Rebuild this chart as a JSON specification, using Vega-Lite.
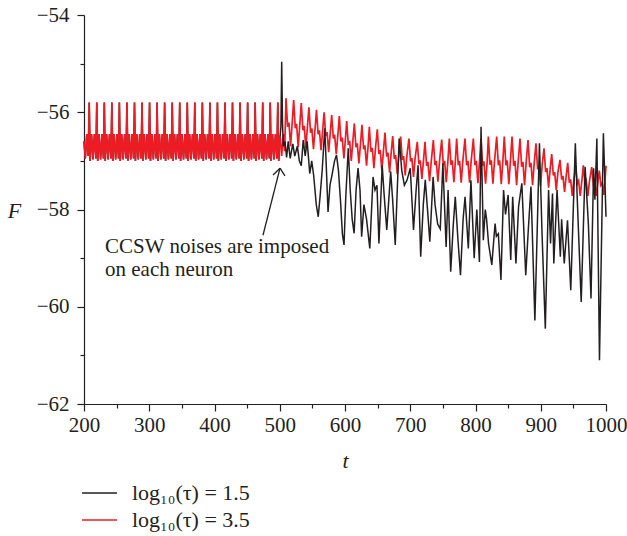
{
"$schema":"https://vega.github.io/schema/vega-lite/v6.json",
"width":522,"height":389,
"autosize":{"type":"none"},
"padding":{"left":84,"top":15,"right":21,"bottom":132},
"config":{"view":{"stroke":null},"font":"Liberation Serif",
 "axis":{"grid":false,"domainColor":"#231f20","tickColor":"#231f20","labelColor":"#231f20","titleColor":"#231f20","labelFont":"Liberation Serif","titleFont":"Liberation Serif","labelFontSize":21,"titleFontSize":22,"titleFontWeight":"normal","titleFontStyle":"italic","domainWidth":1.2,"tickWidth":1.2,"labelOverlap":false,"labelFlush":false}},
"datasets":{
"a":[{"t":200,"F":-56.6},{"t":202,"F":-56.95},{"t":204.3,"F":-56.45},{"t":206.5,"F":-56.9},
{"t":208,"F":-55.8},{"t":209.4,"F":-57},{"t":211.5,"F":-56.45},{"t":213.8,"F":-56.97},{"t":216,"F":-56.45},{"t":218.2,"F":-56.95},
{"t":219.6,"F":-55.8},{"t":221,"F":-57},{"t":223.1,"F":-56.45},{"t":225.4,"F":-56.97},{"t":227.6,"F":-56.45},{"t":229.8,"F":-56.95},
{"t":231.1,"F":-55.8},{"t":232.5,"F":-57},{"t":234.6,"F":-56.45},{"t":236.9,"F":-56.97},{"t":239.1,"F":-56.45},{"t":241.3,"F":-56.95},
{"t":242.7,"F":-55.8},{"t":244.1,"F":-57},{"t":246.2,"F":-56.45},{"t":248.5,"F":-56.97},{"t":250.7,"F":-56.45},{"t":252.9,"F":-56.95},
{"t":254.2,"F":-55.8},{"t":255.6,"F":-57},{"t":257.7,"F":-56.45},{"t":260,"F":-56.97},{"t":262.2,"F":-56.45},{"t":264.4,"F":-56.95},
{"t":265.8,"F":-55.8},{"t":267.2,"F":-57},{"t":269.3,"F":-56.45},{"t":271.6,"F":-56.97},{"t":273.8,"F":-56.45},{"t":276,"F":-56.95},
{"t":277.4,"F":-55.8},{"t":278.8,"F":-57},{"t":280.9,"F":-56.45},{"t":283.2,"F":-56.97},{"t":285.4,"F":-56.45},{"t":287.6,"F":-56.95},
{"t":288.9,"F":-55.8},{"t":290.3,"F":-57},{"t":292.4,"F":-56.45},{"t":294.7,"F":-56.97},{"t":296.9,"F":-56.45},{"t":299.1,"F":-56.95},
{"t":300.5,"F":-55.8},{"t":301.9,"F":-57},{"t":304,"F":-56.45},{"t":306.3,"F":-56.97},{"t":308.5,"F":-56.45},{"t":310.7,"F":-56.95},
{"t":312,"F":-55.8},{"t":313.4,"F":-57},{"t":315.5,"F":-56.45},{"t":317.8,"F":-56.97},{"t":320,"F":-56.45},{"t":322.2,"F":-56.95},
{"t":323.6,"F":-55.8},{"t":325,"F":-57},{"t":327.1,"F":-56.45},{"t":329.4,"F":-56.97},{"t":331.6,"F":-56.45},{"t":333.8,"F":-56.95},
{"t":335.2,"F":-55.8},{"t":336.6,"F":-57},{"t":338.7,"F":-56.45},{"t":341,"F":-56.97},{"t":343.2,"F":-56.45},{"t":345.4,"F":-56.95},
{"t":346.7,"F":-55.8},{"t":348.1,"F":-57},{"t":350.2,"F":-56.45},{"t":352.5,"F":-56.97},{"t":354.7,"F":-56.45},{"t":356.9,"F":-56.95},
{"t":358.3,"F":-55.8},{"t":359.7,"F":-57},{"t":361.8,"F":-56.45},{"t":364.1,"F":-56.97},{"t":366.3,"F":-56.45},{"t":368.5,"F":-56.95},
{"t":369.8,"F":-55.8},{"t":371.2,"F":-57},{"t":373.3,"F":-56.45},{"t":375.6,"F":-56.97},{"t":377.8,"F":-56.45},{"t":380,"F":-56.95},
{"t":381.4,"F":-55.8},{"t":382.8,"F":-57},{"t":384.9,"F":-56.45},{"t":387.2,"F":-56.97},{"t":389.4,"F":-56.45},{"t":391.6,"F":-56.95},
{"t":393,"F":-55.8},{"t":394.4,"F":-57},{"t":396.5,"F":-56.45},{"t":398.8,"F":-56.97},{"t":401,"F":-56.45},{"t":403.2,"F":-56.95},
{"t":404.5,"F":-55.8},{"t":405.9,"F":-57},{"t":408,"F":-56.45},{"t":410.3,"F":-56.97},{"t":412.5,"F":-56.45},{"t":414.7,"F":-56.95},
{"t":416.1,"F":-55.8},{"t":417.5,"F":-57},{"t":419.6,"F":-56.45},{"t":421.9,"F":-56.97},{"t":424.1,"F":-56.45},{"t":426.3,"F":-56.95},
{"t":427.6,"F":-55.8},{"t":429,"F":-57},{"t":431.1,"F":-56.45},{"t":433.4,"F":-56.97},{"t":435.6,"F":-56.45},{"t":437.8,"F":-56.95},
{"t":439.2,"F":-55.8},{"t":440.6,"F":-57},{"t":442.7,"F":-56.45},{"t":445,"F":-56.97},{"t":447.2,"F":-56.45},{"t":449.4,"F":-56.95},
{"t":450.8,"F":-55.8},{"t":452.2,"F":-57},{"t":454.3,"F":-56.45},{"t":456.6,"F":-56.97},{"t":458.8,"F":-56.45},{"t":461,"F":-56.95},
{"t":462.3,"F":-55.8},{"t":463.7,"F":-57},{"t":465.8,"F":-56.45},{"t":468.1,"F":-56.97},{"t":470.3,"F":-56.45},{"t":472.5,"F":-56.95},
{"t":473.9,"F":-55.8},{"t":475.3,"F":-57},{"t":477.4,"F":-56.45},{"t":479.7,"F":-56.97},{"t":481.9,"F":-56.45},{"t":484.1,"F":-56.95},
{"t":485.4,"F":-55.8},{"t":486.8,"F":-57},{"t":488.9,"F":-56.45},{"t":491.2,"F":-56.97},{"t":493.4,"F":-56.45},{"t":495.6,"F":-56.95},
{"t":497,"F":-55.8},{"t":498.4,"F":-57},{"t":500.5,"F":-56.5}],
"r2":[{"t":500.5,"F":-56.5},{"t":503,"F":-56.9},{"t":505.5,"F":-56.45},{"t":507.5,"F":-56.8},
{"t":509.6,"F":-55.71},{"t":512.1,"F":-56.3},{"t":514.1,"F":-56.21},{"t":516.6,"F":-56.7},{"t":519.1,"F":-56.21},
{"t":521.3,"F":-55.75},{"t":523.8,"F":-56.33},{"t":525.8,"F":-56.24},{"t":528.3,"F":-56.72},{"t":530.8,"F":-56.24},
{"t":533,"F":-55.81},{"t":535.5,"F":-56.37},{"t":537.5,"F":-56.28},{"t":540,"F":-56.74},{"t":542.5,"F":-56.28},
{"t":544.7,"F":-55.9},{"t":547.2,"F":-56.42},{"t":549.2,"F":-56.33},{"t":551.7,"F":-56.76},{"t":554.2,"F":-56.33},
{"t":556.3,"F":-55.95},{"t":558.8,"F":-56.45},{"t":560.8,"F":-56.37},{"t":563.3,"F":-56.78},{"t":565.8,"F":-56.37},
{"t":568,"F":-56},{"t":570.5,"F":-56.49},{"t":572.5,"F":-56.41},{"t":575,"F":-56.82},{"t":577.5,"F":-56.41},
{"t":579.6,"F":-56.06},{"t":582.1,"F":-56.54},{"t":584.1,"F":-56.46},{"t":586.6,"F":-56.86},{"t":589.1,"F":-56.46},
{"t":591.3,"F":-56.08},{"t":593.8,"F":-56.6},{"t":595.8,"F":-56.52},{"t":598.3,"F":-56.95},{"t":600.8,"F":-56.52},
{"t":602.6,"F":-56.18},{"t":605.1,"F":-56.67},{"t":607.1,"F":-56.59},{"t":609.6,"F":-57},{"t":612.1,"F":-56.59},
{"t":614.3,"F":-56.23},{"t":616.8,"F":-56.72},{"t":618.8,"F":-56.64},{"t":621.3,"F":-57.05},{"t":623.8,"F":-56.64},
{"t":626,"F":-56.26},{"t":628.5,"F":-56.76},{"t":630.5,"F":-56.68},{"t":633,"F":-57.1},{"t":635.5,"F":-56.68},
{"t":637.3,"F":-56.3},{"t":639.8,"F":-56.81},{"t":641.8,"F":-56.73},{"t":644.3,"F":-57.15},{"t":646.8,"F":-56.73},
{"t":649.5,"F":-56.35},{"t":652,"F":-56.86},{"t":654,"F":-56.78},{"t":656.5,"F":-57.2},{"t":659,"F":-56.78},
{"t":661.3,"F":-56.42},{"t":663.8,"F":-56.91},{"t":665.8,"F":-56.83},{"t":668.3,"F":-57.24},{"t":670.8,"F":-56.83},
{"t":673.1,"F":-56.49},{"t":675.6,"F":-56.96},{"t":677.6,"F":-56.88},{"t":680.1,"F":-57.27},{"t":682.6,"F":-56.88},
{"t":685.3,"F":-56.5},{"t":687.8,"F":-56.98},{"t":689.8,"F":-56.9},{"t":692.3,"F":-57.3},{"t":694.8,"F":-56.9},
{"t":698,"F":-56.54},{"t":700.5,"F":-57.01},{"t":702.5,"F":-56.94},{"t":705,"F":-57.33},{"t":707.5,"F":-56.94},
{"t":710.8,"F":-56.61},{"t":713.3,"F":-57.07},{"t":715.3,"F":-56.99},{"t":717.8,"F":-57.37},{"t":720.3,"F":-56.99},
{"t":722.6,"F":-56.61},{"t":725.1,"F":-57.1},{"t":727.1,"F":-57.02},{"t":729.6,"F":-57.42},{"t":732.1,"F":-57.02},
{"t":735.4,"F":-56.57},{"t":737.9,"F":-57.09},{"t":739.9,"F":-57},{"t":742.4,"F":-57.43},{"t":744.9,"F":-57},
{"t":748.2,"F":-56.56},{"t":750.7,"F":-57.09},{"t":752.7,"F":-57},{"t":755.2,"F":-57.44},{"t":757.7,"F":-57},
{"t":759.9,"F":-56.54},{"t":762.4,"F":-57.08},{"t":764.4,"F":-56.99},{"t":766.9,"F":-57.44},{"t":769.2,"F":-56.99},
{"t":771.1,"F":-56.54},{"t":773.6,"F":-57.09},{"t":775.6,"F":-57},{"t":778.1,"F":-57.45},{"t":780.6,"F":-57},
{"t":783.9,"F":-56.54},{"t":786.4,"F":-57.09},{"t":788.4,"F":-57},{"t":790.9,"F":-57.45},{"t":793.4,"F":-57},
{"t":796.7,"F":-56.54},{"t":799.2,"F":-57.09},{"t":801.2,"F":-57},{"t":803.7,"F":-57.46},{"t":806.2,"F":-57},
{"t":808.4,"F":-56.54},{"t":810.9,"F":-57.1},{"t":812.9,"F":-57.01},{"t":815.4,"F":-57.47},{"t":817.9,"F":-57.01},
{"t":819.7,"F":-56.5},{"t":822.2,"F":-57.08},{"t":824.2,"F":-56.99},{"t":826.7,"F":-57.47},{"t":829.2,"F":-56.99},
{"t":832.5,"F":-56.5},{"t":835,"F":-57.09},{"t":837,"F":-56.99},{"t":839.5,"F":-57.48},{"t":842,"F":-56.99},
{"t":844.1,"F":-56.5},{"t":846.6,"F":-57.09},{"t":848.6,"F":-56.99},{"t":851.1,"F":-57.48},{"t":853.6,"F":-56.99},
{"t":856,"F":-56.5},{"t":858.5,"F":-57.1},{"t":860.5,"F":-57},{"t":863,"F":-57.5},{"t":865.5,"F":-57},
{"t":868.2,"F":-56.54},{"t":870.7,"F":-57.12},{"t":872.7,"F":-57.02},{"t":875.2,"F":-57.5},{"t":877.7,"F":-57.02},
{"t":880.5,"F":-56.57},{"t":883,"F":-57.13},{"t":885,"F":-57.04},{"t":887.5,"F":-57.5},{"t":890,"F":-57.04},
{"t":892.7,"F":-56.64},{"t":895.2,"F":-57.17},{"t":897.2,"F":-57.08},{"t":899.7,"F":-57.52},{"t":902.2,"F":-57.08},
{"t":905,"F":-56.74},{"t":907.5,"F":-57.23},{"t":909.5,"F":-57.15},{"t":912,"F":-57.55},{"t":914.5,"F":-57.15},
{"t":916.8,"F":-56.86},{"t":919.3,"F":-57.3},{"t":921.3,"F":-57.23},{"t":923.8,"F":-57.6},{"t":926.3,"F":-57.23},
{"t":929.5,"F":-56.98},{"t":932,"F":-57.38},{"t":934,"F":-57.31},{"t":936.5,"F":-57.64},{"t":939,"F":-57.31},
{"t":941.3,"F":-57.04},{"t":943.8,"F":-57.45},{"t":945.8,"F":-57.38},{"t":948.3,"F":-57.72},{"t":950.8,"F":-57.38},
{"t":953.5,"F":-57.09},{"t":956,"F":-57.47},{"t":958,"F":-57.41},{"t":960.5,"F":-57.72},{"t":963,"F":-57.41},
{"t":965.2,"F":-57.09},{"t":967.7,"F":-57.47},{"t":969.7,"F":-57.41},{"t":972.2,"F":-57.72},{"t":974.7,"F":-57.41},
{"t":978.1,"F":-57.13},{"t":980.6,"F":-57.48},{"t":982.6,"F":-57.43},{"t":985.1,"F":-57.72},{"t":987.6,"F":-57.43},
{"t":989.7,"F":-57.2},{"t":992.2,"F":-57.5},{"t":994.2,"F":-57.45},{"t":996.7,"F":-57.7},{"t":999,"F":-57.3},{"t":1000,"F":-57.1}],
"b2":[{"t":500.5,"F":-56.5},{"t":501.8,"F":-56.3},{"t":503,"F":-54.96},{"t":504.2,"F":-56.2},{"t":505.5,"F":-56.7},{"t":508,"F":-56.6},{"t":510.5,"F":-56.93},{"t":513,"F":-56.6},{"t":516,"F":-56.95},{"t":520,"F":-56.65},{"t":523,"F":-56.9},{"t":527,"F":-56.7},{"t":530,"F":-57},{"t":533,"F":-57.1},{"t":536,"F":-56.57},{"t":539,"F":-56.9},{"t":542,"F":-56.6},{"t":546,"F":-57.26},{"t":549,"F":-57},{"t":552,"F":-57.3},{"t":556,"F":-57.9},{"t":559,"F":-58.15},{"t":562,"F":-57.7},{"t":565,"F":-57.2},{"t":569,"F":-56.33},{"t":571,"F":-57},{"t":574,"F":-58.05},{"t":577,"F":-57.5},{"t":580,"F":-57.3},{"t":584,"F":-57},{"t":587,"F":-56.88},{"t":590,"F":-57.2},{"t":593,"F":-57.8},{"t":596,"F":-58.5},{"t":598.5,"F":-58.73},{"t":601,"F":-57.8},{"t":605,"F":-56.74},{"t":608,"F":-57.6},{"t":611,"F":-58.2},{"t":614,"F":-58.49},{"t":617,"F":-57.6},{"t":620,"F":-57.15},{"t":623,"F":-57.6},{"t":625.5,"F":-58.56},{"t":629,"F":-57.9},{"t":633,"F":-58.2},{"t":638,"F":-58.8},{"t":643,"F":-57.33},{"t":646,"F":-57.6},{"t":649,"F":-57.5},{"t":652,"F":-58.7},{"t":657,"F":-57.09},{"t":660,"F":-57.7},{"t":664,"F":-58.42},{"t":670,"F":-57.22},{"t":673,"F":-57.8},{"t":677,"F":-58.73},{"t":683,"F":-56.54},{"t":687,"F":-57.2},{"t":691,"F":-57.5},{"t":695,"F":-57.4},{"t":700,"F":-57.15},{"t":705,"F":-58.42},{"t":709,"F":-57.6},{"t":712,"F":-57.09},{"t":716,"F":-58.97},{"t":720,"F":-57.9},{"t":723,"F":-57.39},{"t":727,"F":-58.1},{"t":730,"F":-58.66},{"t":735,"F":-57.33},{"t":738,"F":-57.9},{"t":742,"F":-58.3},{"t":746,"F":-58.4},{"t":750,"F":-57.05},{"t":755,"F":-58.77},{"t":758,"F":-57.6},{"t":762,"F":-59.28},{"t":766,"F":-58.3},{"t":769,"F":-57.74},{"t":773,"F":-58.6},{"t":777,"F":-59.35},{"t":781,"F":-58.2},{"t":784,"F":-57.74},{"t":789,"F":-58.8},{"t":793,"F":-57.4},{"t":798,"F":-59},{"t":802,"F":-58},{"t":806,"F":-59.08},{"t":808.5,"F":-56.3},{"t":812,"F":-58.63},{"t":815,"F":-58},{"t":817,"F":-58.2},{"t":820,"F":-58.7},{"t":825,"F":-59.14},{"t":830,"F":-58.29},{"t":832,"F":-58.55},{"t":835,"F":-58.5},{"t":839,"F":-59.45},{"t":843,"F":-57.6},{"t":846,"F":-58.1},{"t":850,"F":-57.7},{"t":854,"F":-59.04},{"t":857,"F":-57.74},{"t":862,"F":-59.11},{"t":866,"F":-57.94},{"t":871,"F":-57.46},{"t":877,"F":-59.35},{"t":881,"F":-58.4},{"t":885,"F":-57.53},{"t":891,"F":-60.28},{"t":898,"F":-56.64},{"t":902,"F":-58.5},{"t":907,"F":-60.45},{"t":912,"F":-57.6},{"t":915,"F":-58.7},{"t":918,"F":-57.67},{"t":920,"F":-59.11},{"t":925,"F":-57.6},{"t":930,"F":-58.97},{"t":932,"F":-58.2},{"t":936,"F":-59.11},{"t":941,"F":-58.22},{"t":946,"F":-59.66},{"t":953,"F":-56.64},{"t":956,"F":-57.8},{"t":962,"F":-59.9},{"t":968,"F":-57.12},{"t":973,"F":-58.3},{"t":977,"F":-59.83},{"t":981,"F":-57.15},{"t":983,"F":-57.8},{"t":986,"F":-56.54},{"t":990,"F":-61.1},{"t":996,"F":-56.43},{"t":1000,"F":-58.15}],
"arrow":[{"t":474.3,"F":-58.53,"t2":500.4,"F2":-57.15},{"t":489.7,"F":-57.29,"t2":500.4,"F2":-57.15},{"t":508,"F":-57.31,"t2":500.4,"F2":-57.15}],
"note":[{"t":232.2,"F":-58.9,"label":"CCSW noises are imposed"},{"t":232.2,"F":-59.37,"label":"on each neuron"}]
},
"encoding":{
 "x":{"field":"t","type":"quantitative","scale":{"domain":[200,1000],"nice":false,"zero":false},
  "axis":{"values":[200,250,300,350,400,450,500,550,600,650,700,750,800,850,900,950,1000],"format":"d","labelExpr":"datum.value % 100 === 0 ? datum.label : ''","tickSize":{"condition":{"test":"datum.value % 100 === 0","value":7},"value":4},"labelPadding":3,"title":"t","titleY":56,"titleBaseline":"middle"}},
 "y":{"field":"F","type":"quantitative","scale":{"domain":[-62,-54],"nice":false,"zero":false},
  "axis":{"values":[-62,-61,-60,-59,-58,-57,-56,-55,-54],"format":"d","labelExpr":"datum.value % 2 === 0 ? datum.label : ''","tickSize":{"condition":{"test":"datum.value % 2 === 0","value":7},"value":4},"labelPadding":8,"title":"F","titleAngle":0,"titleX":-70,"titleY":195,"titleAlign":"center","titleBaseline":"middle"}}
},
"layer":[
 {"data":{"name":"a"},"mark":{"type":"line","strokeWidth":1.5},"encoding":{"color":{"datum":"log₁₀(τ) = 1.5","type":"nominal","scale":{"domain":["log₁₀(τ) = 1.5","log₁₀(τ) = 3.5"],"range":["#231f20","#ed1c24"]},
   "legend":{"orient":"none","legendX":-8,"legendY":467,"title":null,"symbolType":"M-1,0H6","symbolSize":100,"symbolStrokeWidth":1.3,"labelOffset":34,"labelFontSize":22,"labelFont":"Liberation Serif","labelColor":"#231f20","rowPadding":5}}}},
 {"data":{"name":"a"},"mark":{"type":"line","strokeWidth":1.7},"encoding":{"color":{"datum":"log₁₀(τ) = 3.5","type":"nominal"}}},
 {"data":{"name":"r2"},"mark":{"type":"line","strokeWidth":1.7},"encoding":{"color":{"datum":"log₁₀(τ) = 3.5","type":"nominal"}}},
 {"data":{"name":"b2"},"mark":{"type":"line","strokeWidth":1.5},"encoding":{"color":{"datum":"log₁₀(τ) = 1.5","type":"nominal"}}},
 {"data":{"name":"arrow"},"mark":{"type":"rule","color":"#231f20","strokeWidth":1.3},"encoding":{"x2":{"field":"t2"},"y2":{"field":"F2"}}},
 {"data":{"name":"note"},"mark":{"type":"text","align":"left","baseline":"alphabetic","font":"Liberation Serif","fontSize":21,"color":"#231f20"},"encoding":{"text":{"field":"label"}}}
]
}
